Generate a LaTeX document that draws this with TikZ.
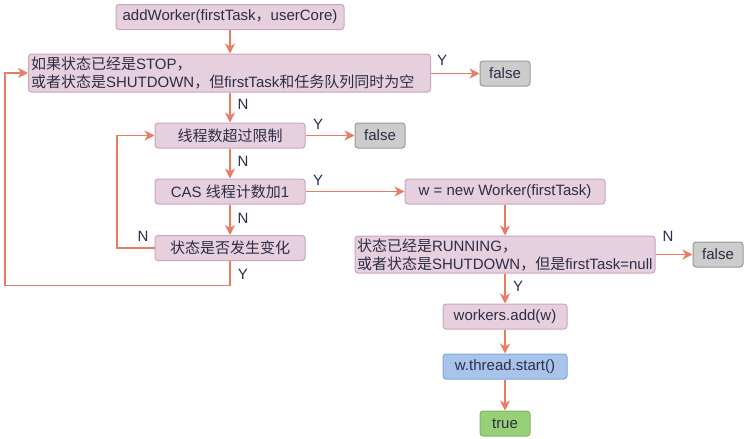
\documentclass[tikz,border=0pt]{standalone}
\usepackage{fontspec}
\setmainfont{Liberation Sans}
\newfontfamily\cjk{Noto Sans CJK SC}
\newcommand\zh[1]{{\cjk #1}}
\usetikzlibrary{arrows.meta}
\definecolor{pinkf}{HTML}{E6D0DE}
\definecolor{pinkd}{HTML}{CDA2BE}
\definecolor{grayf}{HTML}{CCCCCC}
\definecolor{grayd}{HTML}{999999}
\definecolor{bluef}{HTML}{A9C4EB}
\definecolor{blued}{HTML}{7EA6E0}
\definecolor{greenf}{HTML}{97D077}
\definecolor{greend}{HTML}{82B366}
\definecolor{arr}{RGB}{232,125,100}
\definecolor{txt}{RGB}{45,45,70}
\begin{document}
\begin{tikzpicture}[x=1pt,y=-1pt,
  every node/.style={font=\fontsize{15}{18}\selectfont, text=txt},
  box/.style={draw=pinkd, fill=pinkf, line width=1pt, rounded corners=3pt, inner sep=0pt, minimum height=25pt},
  gbox/.style={box, draw=grayd, fill=grayf, minimum width=50pt},
  bbox/.style={box, draw=blued, fill=bluef},
  tbox/.style={box, draw=greend, fill=greenf, minimum width=50pt},
  flow/.style={draw=arr, line width=1.5pt, -{Stealth[length=10pt,width=10pt,inset=3pt]}},
  lbl/.style={inner sep=0pt, font=\fontsize{15}{17}\selectfont}]
\useasboundingbox (0,0) rectangle (747,439);
\node[box, minimum width=228pt] (aw) at (230,17) {addWorker(firstTask\zh{，}userCore)};
\node[box, minimum width=402pt, minimum height=38pt, text width=397pt, align=left] (d1) at (229.5,73)
  {\zh{如果状态已经是}STOP\zh{，}\\\zh{或者状态是}SHUTDOWN\zh{，但}firstTask\zh{和任务队列同时为空}};
\node[gbox] (f1) at (505,73.5) {false};
\node[box, minimum width=150pt] (lim) at (230,135.5) {\zh{线程数超过限制}};
\node[gbox] (f2) at (380,135.5) {false};
\node[box, minimum width=150pt] (cas) at (230,191.5) {CAS \zh{线程计数加}1};
\node[box, minimum width=150pt] (chg) at (230,248) {\zh{状态是否发生变化}};
\node[box, minimum width=200pt] (nw) at (505,191.5) {w = new Worker(firstTask)};
\node[box, minimum width=300pt, minimum height=37pt, text width=296pt, align=left] (d2) at (505,254.5)
  {\zh{状态已经是}RUNNING\zh{，}\\\zh{或者状态是}SHUTDOWN\zh{，但是}firstTask=null};
\node[gbox] (f3) at (718,254.5) {false};
\node[box, minimum width=124pt] (add) at (505,316.5) {workers.add(w)};
\node[bbox, minimum width=124pt] (st) at (505,366.5) {w.thread.start()};
\node[tbox] (tr) at (505,423.5) {true};
\coordinate (o1) at (5,285.5);
\coordinate (i1) at (117,248);
\draw[flow] (aw) -- (d1.north -| aw);
\draw[flow] (d1.east |- f1) -- (f1);
\draw[flow] (d1.south -| lim) -- (lim);
\draw[flow] (lim) -- (f2);
\draw[flow] (lim) -- (cas);
\draw[flow] (cas) -- (chg);
\draw[flow] (cas) -- (nw);
\draw[flow] (nw) -- (d2.north -| nw);
\draw[flow] (d2.east |- f3) -- (f3);
\draw[flow] (d2.south -| add) -- (add);
\draw[flow] (add) -- (st);
\draw[flow] (st) -- (tr);
\draw[flow] (chg.west) -- (i1) |- (lim.west);
\draw[flow] (chg.south) |- (o1) |- (d1.west);
\node[lbl] (y1) at (442,60) {Y};
\node[lbl] (n1) at (243,104) {N};
\node[lbl] (y2) at (318,124) {Y};
\node[lbl] (n2) at (243,161) {N};
\node[lbl] (y3) at (318,180) {Y};
\node[lbl] (n3) at (243,218) {N};
\node[lbl] (n4) at (143,236) {N};
\node[lbl] (y4) at (243,274) {Y};
\node[lbl] (n5) at (668,236) {N};
\node[lbl] (y5) at (518,286) {Y};
\end{tikzpicture}
\end{document}
